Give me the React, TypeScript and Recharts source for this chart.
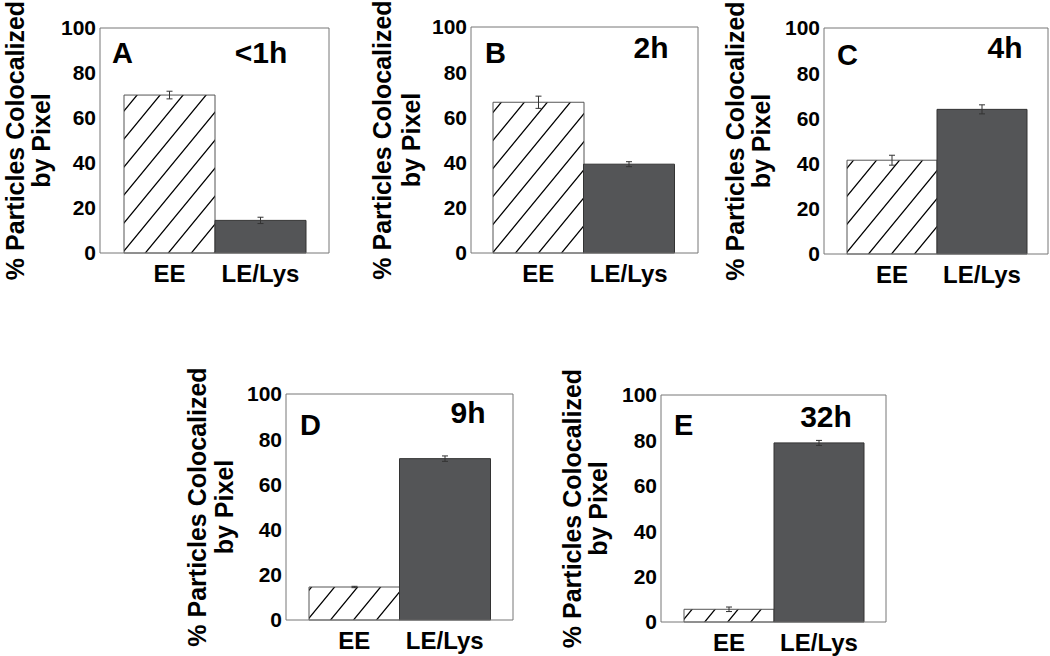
import React from 'react';
import { BarChart, Bar, XAxis, YAxis, ErrorBar, Cell } from 'recharts';

const categories = ['EE', 'LE/Lys'];
const panelLetters = ['A', 'B', 'C', 'D', 'E'];
const timeLabels = ['<1h', '2h', '4h', '9h', '32h'];
const eeValues = [70.2, 66.7, 41.5, 14.6, 5.6];
const eeErrors = [1.7, 2.7, 2.2, 0.3, 1.0];
const leValues = [14.5, 39.3, 64.0, 71.4, 78.9];
const leErrors = [1.4, 1.1, 2.0, 1.2, 1.1];
const yTicks = [0, 20, 40, 60, 80, 100];
const yTitleLines = ['% Particles Colocalized', 'by Pixel'];

// layout: plot-area frame for each panel (px)
const frames = [
  { left: 100, top: 28, width: 229, height: 225, padL: 24, padR: 23 },
  { left: 471, top: 27, width: 227, height: 226, padL: 22, padR: 24 },
  { left: 824, top: 28, width: 224, height: 226, padL: 23, padR: 21 },
  { left: 286, top: 394, width: 227, height: 226, padL: 23, padR: 23 },
  { left: 661, top: 395, width: 225, height: 227, padL: 23, padR: 22 },
];
// annotation offsets relative to frame: letter x, letter baseline, time center x, time baseline
const annot = [
  [12, 35, 161, 35],
  [14, 36, 180, 31],
  [13, 37, 181, 30],
  [14, 41, 182, 29],
  [13, 40, 165, 32],
];
// title baseline offsets (left of frame) per panel: line 1, line 2
const titleOffsets = [
  [76, 50],
  [80, 51],
  [80, 54],
  [80, 53],
  [80, 54],
];

const FONT = '"Liberation Sans", Arial, Helvetica, sans-serif';
const ML = 105;
const MT = 40;
const MR = 6;
const MB = 50;

const makeTitle = (i: number) => (props: any) => {
  const vb = props.viewBox || {};
  const plotLeft = (vb.x || 0) + (vb.width || 0);
  const cy = (vb.y || 0) + (vb.height || 0) / 2;
  return (
    <g>
      <text
        transform={`translate(${plotLeft - titleOffsets[i][0]},${cy}) rotate(-90)`}
        textAnchor="middle"
        fontFamily={FONT}
        fontWeight="bold"
        fontSize={25}
        fill="#000"
      >
        {yTitleLines[0]}
      </text>
      <text
        transform={`translate(${plotLeft - titleOffsets[i][1]},${cy}) rotate(-90)`}
        textAnchor="middle"
        fontFamily={FONT}
        fontWeight="bold"
        fontSize={25}
        fill="#000"
      >
        {yTitleLines[1]}
      </text>
    </g>
  );
};

const tickStyle = { fill: '#000', fontSize: 21, fontWeight: 'bold', fontFamily: FONT };
const xTickStyle = { fill: '#000', fontSize: 24, fontWeight: 'bold', fontFamily: FONT };

function Panel({ i }: { i: number }) {
  const f = frames[i];
  const data = [
    { cat: categories[0], value: eeValues[i], err: eeErrors[i] },
    { cat: categories[1], value: leValues[i], err: leErrors[i] },
  ];
  const pid = `hatch${i}`;
  const Title = makeTitle(i);
  return (
    <div style={{ position: 'absolute', left: f.left - ML, top: f.top - MT }}>
      <BarChart
        width={ML + f.width + MR}
        height={MT + f.height + MB}
        data={data}
        margin={{ top: MT - 1, right: MR - 1, left: 0, bottom: 0 }}
        barCategoryGap={0}
        barGap={0}
      >
        <defs>
          <pattern id={pid} patternUnits="userSpaceOnUse" width={23} height={28}>
            <rect x={0} y={0} width={23} height={28} fill="#fff" />
            <path
              d="M0,28 L23,0 M-3,3.65 L3,-3.65 M20,31.65 L26,24.35"
              stroke="#000"
              strokeWidth={1.3}
              fill="none"
            />
          </pattern>
        </defs>
        <XAxis
          dataKey="cat"
          padding={{ left: f.padL, right: f.padR }}
          tickLine={false}
          tickSize={0}
          tickMargin={12}
          height={MB}
          interval={0}
          axisLine={{ stroke: '#777' }}
          tick={xTickStyle}
        />
        <XAxis
          xAxisId="top"
          orientation="top"
          dataKey="cat"
          height={1}
          tick={false}
          tickLine={false}
          axisLine={{ stroke: '#777' }}
        />
        <YAxis
          width={ML}
          domain={[0, 100]}
          ticks={yTicks}
          interval={0}
          tickLine={false}
          tickSize={0}
          tickMargin={4}
          axisLine={{ stroke: '#777' }}
          tick={tickStyle}
          label={<Title />}
        />
        <YAxis
          yAxisId="right"
          orientation="right"
          width={1}
          domain={[0, 100]}
          ticks={yTicks}
          interval={0}
          tickSize={-6}
          tick={false}
          axisLine={{ stroke: '#777' }}
          tickLine={{ stroke: '#777' }}
        />
        <Bar dataKey="value" isAnimationActive={false} stroke="#333" strokeWidth={1}>
          <Cell fill={`url(#${pid})`} stroke="#555" />
          <Cell fill="#545557" stroke="#333" />
          <ErrorBar dataKey="err" width={3} stroke="#333" strokeWidth={1} isAnimationActive={false} />
        </Bar>
      </BarChart>
    </div>
  );
}

export default function App() {
  return (
    <div
      style={{
        position: 'absolute',
        left: 0,
        top: 0,
        width: 1050,
        height: 656,
        overflow: 'hidden',
        background: '#fff',
      }}
    >
      {frames.map((_, i) => (
        <Panel key={i} i={i} />
      ))}
      <svg
        width={1050}
        height={656}
        style={{ position: 'absolute', left: 0, top: 0, pointerEvents: 'none' }}
      >
        {frames.map((f, i) => (
          <g key={i} fontFamily={FONT} fontWeight="bold" fill="#000">
            <text x={f.left + annot[i][0]} y={f.top + annot[i][1]} fontSize={29}>
              {panelLetters[i]}
            </text>
            <text
              x={f.left + annot[i][2]}
              y={f.top + annot[i][3]}
              fontSize={30}
              textAnchor="middle"
            >
              {timeLabels[i]}
            </text>
          </g>
        ))}
      </svg>
    </div>
  );
}
